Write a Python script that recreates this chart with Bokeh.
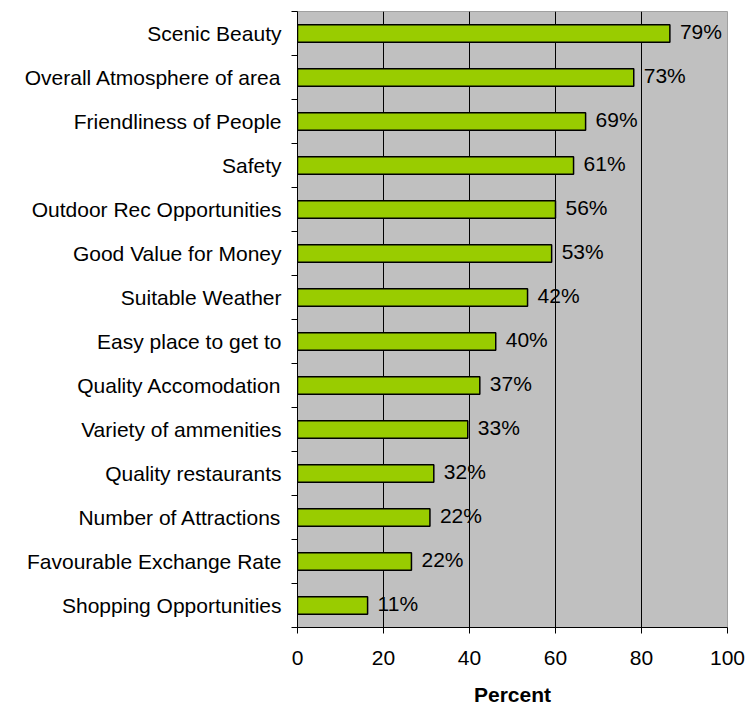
from bokeh.plotting import figure
from bokeh.models import FixedTicker, Range1d, ColumnDataSource
from bokeh.core.properties import value
from bokeh.embed import file_html
from bokeh.resources import INLINE

categories = [
    "Scenic Beauty",
    "Overall Atmosphere of area",
    "Friendliness of People",
    "Safety",
    "Outdoor Rec Opportunities",
    "Good Value for Money",
    "Suitable Weather",
    "Easy place to get to",
    "Quality Accomodation",
    "Variety of ammenities",
    "Quality restaurants",
    "Number of Attractions",
    "Favourable Exchange Rate",
    "Shopping Opportunities",
]
values = [86.6, 78.2, 67.0, 64.2, 60.0, 59.1, 53.5, 46.1, 42.4, 39.6, 31.7, 30.8, 26.5, 16.3]
bar_labels = ["79%", "73%", "69%", "61%", "56%", "53%", "42%", "40%", "37%", "33%",
              "32%", "22%", "22%", "11%"]
x_ticks = [0, 20, 40, 60, 80, 100]
grid_ticks = [20, 40, 60, 80]
x_title = "Percent"

FONT = "Liberation Sans"
FS = "21px"
n = len(categories)
positions = [n - 1 - i for i in range(n)]
boundaries = [k - 0.5 for k in range(n + 1)]

source = ColumnDataSource(dict(pos=positions, value=values, label=bar_labels, cat=categories))

p = figure(width=754, height=709, output_backend="svg", toolbar_location=None,
           x_range=Range1d(0, 100), y_range=Range1d(-0.5, n - 0.5),
           min_border_left=297, min_border_right=27, min_border_top=11, min_border_bottom=82)

p.background_fill_color = "#C0C0C0"
p.border_fill_color = "white"
p.outline_line_color = "#A0A0A0"
p.outline_line_width = 1

p.hbar(y="pos", left=0, right="value", height=0.4, source=source,
       fill_color="#99CC00", line_color="black", line_width=1.5)

p.text(x="value", y="pos", text="label", source=source, x_offset=10, y_offset=-2,
       text_baseline="middle", text_align="left", text_color="black",
       text_font=value(FONT), text_font_size=FS)

# grid
p.ygrid.grid_line_color = None
p.xgrid.ticker = FixedTicker(ticks=grid_ticks)
p.xgrid.grid_line_color = "black"
p.xgrid.grid_line_width = 1

# y axis
ya = p.yaxis[0]
ya.ticker = FixedTicker(ticks=positions, minor_ticks=boundaries)
ya.major_label_overrides = {pos: cat for pos, cat in zip(positions, categories)}
ya.major_tick_out = 0
ya.major_tick_in = 0
ya.major_tick_line_color = None
ya.minor_tick_out = 6
ya.minor_tick_in = 0
ya.minor_tick_line_color = "black"
ya.axis_line_color = "black"
ya.major_label_standoff = 10
ya.major_label_text_font = FONT
ya.major_label_text_font_size = FS
ya.major_label_text_color = "black"

# x axis
xa = p.xaxis[0]
xa.ticker = FixedTicker(ticks=x_ticks)
xa.major_tick_out = 6
xa.major_tick_in = 0
xa.minor_tick_line_color = None
xa.axis_line_color = "black"
xa.major_tick_line_color = "black"
xa.major_label_standoff = 17
xa.major_label_text_font = FONT
xa.major_label_text_font_size = FS
xa.major_label_text_color = "black"
xa.axis_label = x_title
xa.axis_label_text_font = FONT
xa.axis_label_text_font_size = FS
xa.axis_label_text_font_style = "bold"
xa.axis_label_text_color = "black"
xa.axis_label_standoff = 15

open("out.html", "w").write(file_html(p, INLINE))
